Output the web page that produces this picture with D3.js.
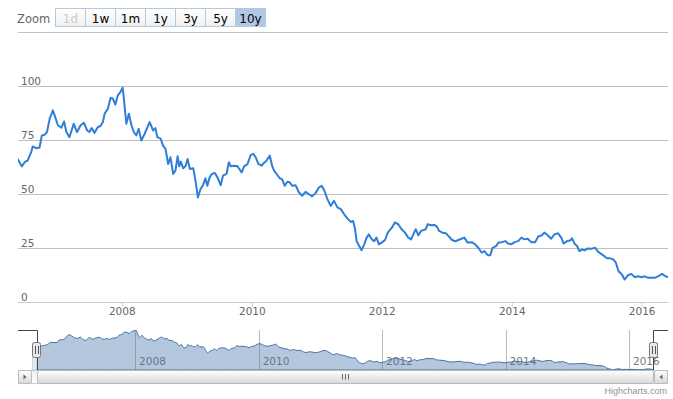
<!DOCTYPE html>
<html>
<head>
<meta charset="utf-8">
<script src="https://cdn.jsdelivr.net/npm/d3@7"></script>
<style>
body { margin: 0; background: #fff; }
text { font-family: "DejaVu Sans", Verdana, sans-serif; }
</style>
</head>
<body>
<svg id="chart" width="673" height="399"></svg>
<script>
const dates = [
  "2006-05-01","2006-05-12","2006-05-26","2006-06-18","2006-07-07","2006-07-21","2006-08-10","2006-08-19",
  "2006-09-08","2006-09-26","2006-10-09","2006-10-24","2006-11-07","2006-11-22","2006-12-10","2006-12-23",
  "2007-01-08","2007-01-27","2007-02-11","2007-02-24","2007-03-13","2007-04-06","2007-04-25","2007-05-14",
  "2007-06-02","2007-06-21","2007-07-03","2007-07-16","2007-08-01","2007-08-20","2007-09-04","2007-09-17",
  "2007-09-27","2007-10-15","2007-10-30","2007-11-12","2007-11-26","2007-12-10","2007-12-25","2008-01-06",
  "2008-01-11","2008-01-27","2008-02-10","2008-02-25","2008-03-09","2008-03-23","2008-04-05","2008-04-20",
  "2008-05-09","2008-06-06","2008-06-25","2008-07-08","2008-07-19","2008-08-07","2008-08-20","2008-09-03",
  "2008-09-18","2008-10-01","2008-10-16","2008-10-29","2008-11-10","2008-11-19","2008-11-28","2008-12-11",
  "2008-12-24","2009-01-05","2009-01-18","2009-02-06","2009-02-20","2009-03-04","2009-03-19","2009-04-02",
  "2009-04-15","2009-04-26","2009-05-09","2009-05-22","2009-06-07","2009-06-22","2009-07-10","2009-07-23",
  "2009-08-12","2009-08-25","2009-09-05","2009-09-24","2009-10-13","2009-10-20","2009-11-05","2009-11-19",
  "2009-12-08","2009-12-26","2010-01-09","2010-01-23","2010-02-07","2010-02-26","2010-03-10","2010-03-24",
  "2010-04-12","2010-04-25","2010-05-06","2010-05-25","2010-06-07","2010-06-20","2010-07-05","2010-07-20",
  "2010-08-02","2010-08-16","2010-09-04","2010-09-23","2010-10-11","2010-10-30","2010-11-18","2010-12-06",
  "2010-12-25","2011-01-14","2011-01-29","2011-02-13","2011-03-02","2011-03-20","2011-04-08","2011-04-27",
  "2011-05-16","2011-06-04","2011-06-23","2011-07-11","2011-07-24","2011-08-03","2011-08-13","2011-08-26",
  "2011-09-10","2011-09-25","2011-10-08","2011-10-21","2011-11-06","2011-11-20","2011-12-03","2011-12-16",
  "2012-01-04","2012-01-20","2012-02-04","2012-02-27","2012-03-15","2012-04-03","2012-04-22","2012-05-11",
  "2012-05-29","2012-06-14","2012-06-27","2012-07-10","2012-07-25","2012-08-09","2012-08-22","2012-09-05",
  "2012-09-16","2012-10-05","2012-10-23","2012-11-06","2012-11-19","2012-12-07","2012-12-26","2013-01-11",
  "2013-01-30","2013-02-18","2013-03-06","2013-03-25","2013-04-09","2013-04-28","2013-05-21","2013-06-09",
  "2013-06-27","2013-07-16","2013-07-31","2013-08-20","2013-09-02","2013-09-15","2013-10-04","2013-10-18",
  "2013-11-07","2013-11-26","2013-12-10","2013-12-29","2014-01-17","2014-02-06","2014-02-24","2014-03-13",
  "2014-04-01","2014-04-20","2014-05-12","2014-05-30","2014-06-19","2014-07-03","2014-07-22","2014-08-10",
  "2014-08-29","2014-09-18","2014-10-06","2014-10-19","2014-11-08","2014-11-26","2014-12-05","2014-12-20",
  "2015-01-03","2015-01-16","2015-02-01","2015-02-15","2015-03-04","2015-03-27","2015-04-15","2015-04-30",
  "2015-05-18","2015-06-06","2015-06-19","2015-07-08","2015-07-26","2015-08-09","2015-08-24","2015-09-12",
  "2015-09-27","2015-10-16","2015-11-04","2015-11-22","2015-12-11","2016-01-01","2016-01-18","2016-02-07",
  "2016-02-25","2016-03-14","2016-04-02","2016-04-25","2016-05-13","2016-05-28"
];
const values = [
  65.5, 67.0, 66.2, 62.8, 65.0, 65.4, 69.4, 72.0,
  71.2, 71.5, 77.1, 77.4, 78.7, 84.9, 88.7, 85.6,
  81.7, 80.7, 83.6, 78.7, 76.3, 82.5, 78.7, 81.7,
  83.0, 79.4, 78.7, 80.5, 78.3, 81.0, 81.5, 83.3,
  87.2, 89.5, 94.5, 94.2, 91.4, 95.7, 97.3, 99.2,
  95.7, 82.5, 87.2, 81.7, 78.7, 77.1, 80.2, 74.8,
  77.9, 83.3, 79.4, 80.5, 76.3, 75.6, 72.4, 70.9,
  63.9, 67.0, 59.3, 60.8, 67.5, 62.8, 65.0, 61.9,
  62.8, 66.2, 61.6, 61.9, 55.4, 48.4, 52.3, 54.1,
  57.3, 53.8, 57.7, 59.3, 59.7, 57.7, 54.1, 58.5,
  59.3, 64.7, 62.8, 63.1, 62.8, 61.9, 60.0, 62.8,
  63.9, 68.1, 68.6, 67.0, 63.9, 63.1, 64.4, 65.4,
  67.8, 63.1, 60.8, 58.8, 57.3, 56.9, 53.8, 55.7,
  55.4, 53.8, 54.1, 50.7, 49.2, 51.0, 49.9, 48.9,
  50.4, 53.1, 53.8, 51.5, 47.6, 44.5, 46.8, 43.8,
  43.0, 40.6, 38.6, 37.1, 37.5, 34.4, 28.2, 26.2,
  24.0, 26.7, 29.8, 31.3, 29.0, 28.2, 29.8, 26.7,
  27.7, 28.7, 32.1, 34.4, 36.8, 36.0, 33.7, 32.1,
  29.8, 29.0, 31.3, 33.7, 30.9, 32.9, 33.3, 33.7,
  36.0, 35.5, 35.7, 34.9, 32.9, 32.1, 31.8, 30.5,
  28.7, 28.1, 28.7, 29.3, 29.8, 27.5, 27.7, 26.7,
  25.1, 22.8, 23.6, 21.6, 21.6, 25.1, 25.9, 27.5,
  27.7, 28.2, 27.1, 26.7, 27.7, 28.2, 29.8, 29.0,
  29.3, 27.7, 27.7, 30.3, 30.9, 32.1, 30.9, 29.3,
  31.3, 31.8, 29.8, 27.1, 28.2, 28.5, 29.5, 27.0,
  25.9, 23.6, 24.3, 23.9, 24.8, 24.7, 25.1, 23.3,
  22.3, 21.2, 20.2, 20.2, 19.7, 18.2, 14.2, 12.7,
  10.4, 12.4, 13.0, 11.5, 11.9, 11.5, 11.9, 11.2,
  11.2, 11.2, 11.9, 13.0, 11.9, 11.5
];
const yTicks = [0, 25, 50, 75, 100, 125];
const xTickYears = [2008, 2010, 2012, 2014, 2016];
const navTickYears = [2008, 2010, 2012, 2014, 2016];
const rangeButtons = ["1d", "1w", "1m", "1y", "3y", "5y", "10y"];
const selectedButton = "10y";
const disabledButton = "1d";
const viewStart = "2006-05-28";
const viewEnd = "2016-05-28";

const svg = d3.select("#chart");
const plot = { left: 18, top: 32, width: 650, height: 270 };
const nav = { left: 32, top: 330, width: 622, height: 40 };
const scrollH = 14;
const plotRight = plot.left + plot.width;

const parse = d3.timeParse("%Y-%m-%d");
const points = dates.map((d, i) => ({ date: parse(d), value: values[i] }));

const defs = svg.append("defs");
defs.append("clipPath").attr("id", "plotClip").append("rect")
  .attr("x", plot.left).attr("y", plot.top).attr("width", plot.width).attr("height", plot.height);
defs.append("clipPath").attr("id", "navClip").append("rect")
  .attr("x", nav.left).attr("y", nav.top).attr("width", nav.width).attr("height", nav.height);

function grad(id, c0, c1) {
  const g = defs.append("linearGradient").attr("id", id)
    .attr("x1", 0).attr("y1", 0).attr("x2", 0).attr("y2", 1);
  g.append("stop").attr("offset", 0).attr("stop-color", c0);
  g.append("stop").attr("offset", 1).attr("stop-color", c1);
}
grad("btnGrad", "#ffffff", "#f0f0f0");
grad("barGrad", "#ffffff", "#d8d8d8");
grad("trackGrad", "#eeeeee", "#ffffff");

// main chart
const x = d3.scaleTime().domain([parse(viewStart), parse(viewEnd)]).range([plot.left, plotRight]);
const y = d3.scaleLinear().domain([0, 125]).range([plot.top + plot.height, plot.top]);

const yAxis = svg.append("g")
  .attr("transform", `translate(${plot.left},0)`)
  .call(d3.axisRight(y).tickValues(yTicks).tickSize(plot.width).tickFormat(d => d === 125 ? "" : d));
yAxis.select(".domain").remove();
yAxis.selectAll("line").attr("stroke", "#c0c0c0");
yAxis.selectAll("text")
  .attr("x", 3).attr("y", -2).attr("dy", null)
  .attr("text-anchor", "start")
  .attr("fill", "#666").style("font-size", "10.5px");

const xAxis = svg.append("g")
  .attr("transform", `translate(0,${plot.top + plot.height})`)
  .call(d3.axisBottom(x)
    .tickValues(xTickYears.map(yr => new Date(yr, 0, 1)))
    .tickSize(5).tickSizeOuter(0)
    .tickFormat(d3.timeFormat("%Y")));
xAxis.select(".domain").attr("stroke", "#c0d0e0");
xAxis.selectAll("line").attr("stroke", "#c0d0e0");
xAxis.selectAll("text")
  .attr("y", 13).attr("dy", null)
  .attr("fill", "#666").style("font-size", "10.5px");

const line = d3.line().x(d => x(d.date)).y(d => y(d.value));
svg.append("path")
  .datum(points)
  .attr("clip-path", "url(#plotClip)")
  .attr("fill", "none")
  .attr("stroke", "#2f7ed8")
  .attr("stroke-width", 2)
  .attr("stroke-linejoin", "round")
  .attr("d", line);

// range selector
svg.append("text")
  .attr("x", 17).attr("y", 23)
  .attr("fill", "#666").style("font-size", "11.5px")
  .text("Zoom");

const btn = svg.append("g").selectAll("g")
  .data(rangeButtons)
  .enter()
  .append("g")
  .attr("transform", (d, i) => `translate(${55.5 + i * 30},8.5)`);
btn.append("rect")
  .attr("width", 30).attr("height", 18)
  .attr("fill", d => d === selectedButton ? "#b0c8e6" : "url(#btnGrad)")
  .attr("stroke", "#b5c9dd");
btn.append("text")
  .attr("x", 15).attr("y", 14.5)
  .attr("text-anchor", "middle")
  .style("font-size", "12px")
  .attr("fill", d => d === disabledButton ? "#cccccc" : "#000")
  .text(d => d);

// navigator
const nx = d3.scaleTime().domain(d3.extent(points, d => d.date)).range([nav.left, nav.left + nav.width]);
const ny = d3.scaleLinear().domain(d3.extent(points, d => d.value)).range([nav.top + nav.height, nav.top]);

const navAxis = svg.append("g");
navAxis.selectAll("line")
  .data(navTickYears)
  .enter()
  .append("line")
  .attr("x1", d => Math.round(nx(new Date(d, 0, 1))) + 0.5)
  .attr("x2", d => Math.round(nx(new Date(d, 0, 1))) + 0.5)
  .attr("y1", nav.top).attr("y2", nav.top + nav.height)
  .attr("stroke", "#bbbbbb");

const area = d3.area()
  .curve(d3.curveMonotoneX)
  .x(d => nx(d.date)).y0(nav.top + nav.height).y1(d => ny(d.value));
svg.append("path")
  .datum(points)
  .attr("clip-path", "url(#navClip)")
  .attr("fill", "#4572a7").attr("fill-opacity", 0.4)
  .attr("stroke", "#4572a7").attr("stroke-width", 1)
  .attr("d", area);

navAxis.selectAll("text")
  .data(navTickYears)
  .enter()
  .append("text")
  .attr("x", d => nx(new Date(d, 0, 1)) + 4)
  .attr("y", nav.top + nav.height - 5)
  .attr("fill", "#777").style("font-size", "10.5px")
  .text(d => d);

const zMin = nx(parse(viewStart));
const zMax = nx(parse(viewEnd));

svg.append("rect")
  .attr("x", nav.left).attr("y", nav.top)
  .attr("width", zMin - nav.left).attr("height", nav.height)
  .attr("fill", "rgba(255,255,255,0.6)");

const oTop = nav.top + 0.5;
svg.append("path")
  .attr("fill", "none").attr("stroke", "#444").attr("stroke-width", 1)
  .attr("d", `M${plot.left},${oTop}L${Math.round(zMin) + 0.5},${oTop}L${Math.round(zMin) + 0.5},${nav.top + nav.height}` +
    `M${Math.round(zMax) - 0.5},${nav.top + nav.height}L${Math.round(zMax) - 0.5},${oTop}L${plotRight},${oTop}`);

[zMin, zMax].forEach(hx => {
  const g = svg.append("g").attr("transform", `translate(${Math.round(hx)},${nav.top + nav.height / 2 - 8})`);
  g.append("rect")
    .attr("x", -4.5).attr("y", 0.5).attr("width", 8).attr("height", 15).attr("rx", 2)
    .attr("fill", "#ebe7e8").attr("stroke", "#777");
  g.append("path")
    .attr("d", "M-1.5,4V12M1.5,4V12")
    .attr("stroke", "#555").attr("fill", "none");
});

// scrollbar
const sTop = nav.top + nav.height + 0.5;
svg.append("rect")
  .attr("x", plot.left + 0.5).attr("y", sTop)
  .attr("width", plot.width - 1).attr("height", scrollH - 1)
  .attr("fill", "url(#trackGrad)").attr("stroke", "#cccccc");
svg.append("rect")
  .attr("x", Math.round(zMin) + 0.5).attr("y", sTop)
  .attr("width", Math.round(zMax - zMin) - 1).attr("height", scrollH - 1).attr("rx", 2)
  .attr("fill", "url(#barGrad)").attr("stroke", "#bbbbbb");
const rc = Math.round((zMin + zMax) / 2);
svg.append("path")
  .attr("d", `M${rc - 2.5},${sTop + 3.5}V${sTop + 9}M${rc + 0.5},${sTop + 3.5}V${sTop + 9}M${rc + 3.5},${sTop + 3.5}V${sTop + 9}`)
  .attr("stroke", "#666").attr("fill", "none");

[{ bx: plot.left + 0.5, dir: -1 }, { bx: plotRight - scrollH + 0.5, dir: 1 }].forEach(b => {
  svg.append("rect")
    .attr("x", b.bx).attr("y", sTop)
    .attr("width", scrollH - 1).attr("height", scrollH - 1).attr("rx", 2)
    .attr("fill", "url(#barGrad)").attr("stroke", "#bbbbbb");
  const cx = b.bx + (scrollH - 1) / 2, cy = sTop + (scrollH - 1) / 2;
  svg.append("path")
    .attr("d", `M${cx - 1.5 * b.dir},${cy}L${cx + 1.5 * b.dir},${cy - 2.5}L${cx + 1.5 * b.dir},${cy + 2.5}Z`)
    .attr("fill", "#666");
});

// credits
svg.append("text")
  .attr("x", 667).attr("y", 394)
  .attr("text-anchor", "end")
  .attr("fill", "#909090")
  .style("font-size", "9px")
  .style("font-family", "'Liberation Sans', Arial, sans-serif")
  .text("Highcharts.com");
</script>
</body>
</html>
